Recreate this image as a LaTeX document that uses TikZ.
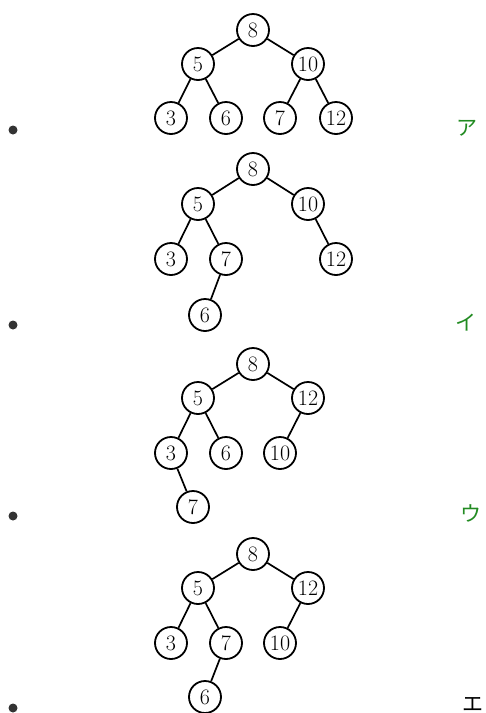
\documentclass[tikz,border=0pt]{standalone}
\usepackage{fontspec}
\usepackage{tikz}
\usetikzlibrary{positioning}
\usepackage{xcolor}
\newfontfamily\kanafont{Noto Sans CJK JP}
\definecolor{kana}{RGB}{34,139,34}
\definecolor{dot}{RGB}{51,51,51}

\begin{document}
\begin{tikzpicture}[x=1pt,y=-1pt,
  vtx/.style={draw,circle,line width=1.8pt,minimum size=32pt,inner sep=0pt,
    font=\fontsize{22}{22}\selectfont},
  edge/.style={line width=1.7pt},
  choice/.style={font=\kanafont\fontsize{21}{21}\selectfont}]
  \useasboundingbox (0,0) rectangle (486,713);
  % tree a: complete tree
  \node[vtx] (a8)  at (253,30)  {8};
  \node[vtx] (a5)  at (198,64)  {5};
  \node[vtx] (a10) at (308,64)  {10};
  \node[vtx] (a3)  at (171,118) {3};
  \node[vtx] (a6)  at (226,118) {6};
  \node[vtx] (a7)  at (280,118) {7};
  \node[vtx] (a12) at (336,118) {12};
  \draw[edge] (a8)--(a5); \draw[edge] (a8)--(a10);
  \draw[edge] (a5)--(a3); \draw[edge] (a5)--(a6);
  \draw[edge] (a10)--(a7); \draw[edge] (a10)--(a12);
  \fill[dot] (13,130) circle (4.5pt);
  \node[choice,text=kana] (ka) at (467,128) {ア};
  % tree b: 7 above 6
  \node[vtx] (b8)  at (253,169) {8};
  \node[vtx] (b5)  at (198,204) {5};
  \node[vtx] (b10) at (308,204) {10};
  \node[vtx] (b3)  at (171,259) {3};
  \node[vtx] (b7)  at (226,259) {7};
  \node[vtx] (b12) at (336,259) {12};
  \node[vtx] (b6)  at (205,315) {6};
  \draw[edge] (b8)--(b5); \draw[edge] (b8)--(b10);
  \draw[edge] (b5)--(b3); \draw[edge] (b5)--(b7);
  \draw[edge] (b7)--(b6); \draw[edge] (b10)--(b12);
  \fill[dot] (13,325) circle (4.5pt);
  \node[choice,text=kana] (kb) at (466,323) {イ};
  % tree c: 7 hangs under 3
  \node[vtx] (c8)  at (253,364) {8};
  \node[vtx] (c5)  at (198,398) {5};
  \node[vtx] (c12) at (308,398) {12};
  \node[vtx] (c3)  at (171,453) {3};
  \node[vtx] (c6)  at (226,453) {6};
  \node[vtx] (c10) at (280,453) {10};
  \node[vtx] (c7)  at (193,507) {7};
  \draw[edge] (c8)--(c5); \draw[edge] (c8)--(c12);
  \draw[edge] (c5)--(c3); \draw[edge] (c5)--(c6);
  \draw[edge] (c3)--(c7); \draw[edge] (c12)--(c10);
  \fill[dot] (13,516) circle (4.5pt);
  \node[choice,text=kana] (kc) at (471,513) {ウ};
  % tree d: 12 on the right, 6 under 7
  \node[vtx] (d8)  at (253,554) {8};
  \node[vtx] (d5)  at (198,588) {5};
  \node[vtx] (d12) at (308,588) {12};
  \node[vtx] (d3)  at (171,643) {3};
  \node[vtx] (d7)  at (226,643) {7};
  \node[vtx] (d10) at (280,643) {10};
  \node[vtx] (d6)  at (205,697) {6};
  \draw[edge] (d8)--(d5); \draw[edge] (d8)--(d12);
  \draw[edge] (d5)--(d3); \draw[edge] (d5)--(d7);
  \draw[edge] (d7)--(d6); \draw[edge] (d12)--(d10);
  \fill[dot] (13,708) circle (4.5pt);
  \node[choice] (kd) at (473,704) {エ};
\end{tikzpicture}
\end{document}
